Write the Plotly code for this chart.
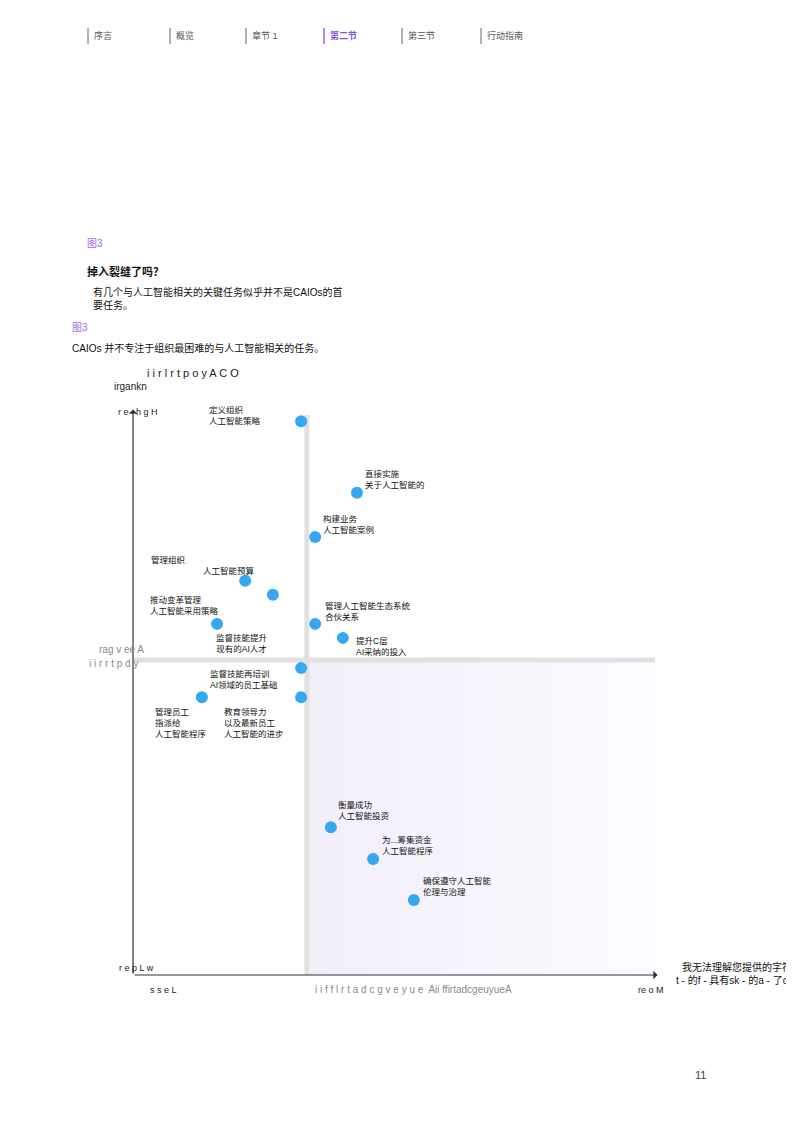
import plotly.graph_objects as go

W, H = 794, 1122
OFF = 8  # page body margin in the browser
FONT = "Liberation Sans, Arial, Noto Sans CJK SC, sans-serif"

# ---------------- data ----------------
task_labels = [
    "定义组织<br>人工智能策略",
    "直接实施<br>关于人工智能的",
    "构建业务<br>人工智能案例",
    "人工智能预算",
    "监督技能提升<br>现有的AI人才",
    "推动变革管理<br>人工智能采用策略",
    "管理人工智能生态系统<br>合伙关系",
    "提升C层<br>AI采纳的投入",
    "监督技能再培训<br>AI领域的员工基础",
    "管理员工<br>指派给<br>人工智能程序",
    "教育领导力<br>以及最新员工<br>人工智能的进步",
    "衡量成功<br>人工智能投资",
    "为...筹集资金<br>人工智能程序",
    "确保遵守人工智能<br>伦理与治理",
]
importance = [32.2, 42.9, 34.9, 21.5, 26.8, 16.1, 34.9, 40.2, 32.2, 13.2, 32.2, 37.9, 46.0, 53.8]
difficulty = [98.9, 86.1, 78.2, 70.4, 67.9, 62.7, 62.7, 60.2, 54.8, 49.6, 49.6, 26.4, 20.7, 13.4]

x_divider = 33.3
y_divider = 56.25

nav_items = ["序言", "概览", "章节 1", "第二节", "第三节", "行动指南"]
nav_active = "第二节"

# label offsets in px (xshift, yshift, align anchor)
label_style = [
    (-94, 6, "left"), (6, 13, "left"), (6, 12.5, "left"), (-44, 10, "left"),
    (-31, -48.5, "center"), (-69, 18, "left"), (8, 12.5, "left"), (11, -9, "left"),
    (-93, -11.5, "left"), (-49, -26, "left"), (-79, -26, "left"), (5, 16.5, "left"),
    (7, 13.5, "left"), (7, 13, "left"),
]

# ---------------- layout helpers ----------------
L, R, T, B = 133 - OFF, 655 - OFF, 415 - OFF, 975 - OFF


def px(x, y):
    return (x - OFF) / W, 1 - (y - OFF) / H


fig = go.Figure()

# lower-right quadrant gradient
fig.add_trace(go.Scatter(
    x=[x_divider, 100, 100, x_divider, x_divider], y=[0, 0, y_divider, y_divider, 0],
    mode="lines", line=dict(width=0), fill="toself",
    fillgradient=dict(type="horizontal", colorscale=[[0, "#f1eefa"], [1, "#fcfbff"]]),
    hoverinfo="skip", showlegend=False))

# dividers
fig.add_trace(go.Scatter(x=[x_divider, x_divider], y=[0, 100], mode="lines",
                         line=dict(color="#e2e1e1", width=5), hoverinfo="skip", showlegend=False))
fig.add_trace(go.Scatter(x=[0, 100], y=[y_divider, y_divider], mode="lines",
                         line=dict(color="#e2e1e1", width=5), hoverinfo="skip", showlegend=False))

# points
fig.add_trace(go.Scatter(x=importance, y=difficulty, mode="markers",
                         marker=dict(color="#36a8f2", size=12, line=dict(width=0)),
                         text=[t.replace("<br>", " ") for t in task_labels],
                         hoverinfo="text", showlegend=False))

ann = []
for i, lab in enumerate(task_labels):
    xs, ys, al = label_style[i]
    ann.append(dict(x=importance[i], y=difficulty[i], xref="x", yref="y", text=lab,
                    showarrow=False, xanchor=al, yanchor="middle",
                    align=al, xshift=xs, yshift=ys,
                    font=dict(size=8.5, color="#111", family=FONT)))
# extra first line for budget task
ann.append(dict(x=importance[3], y=difficulty[3], xref="x", yref="y", text="管理组织",
                showarrow=False, xanchor="left", yanchor="middle", xshift=-96, yshift=21,
                font=dict(size=8.5, color="#111", family=FONT)))

# axis arrows
ann.append(dict(x=0, y=101, ax=0, ay=0, xref="x", yref="y", axref="x", ayref="y", text="",
                showarrow=True, arrowhead=1, arrowsize=1.2, arrowwidth=1.2, arrowcolor="#333"))
ann.append(dict(x=100.5, y=0, ax=0, ay=0, xref="x", yref="y", axref="x", ayref="y", text="",
                showarrow=True, arrowhead=1, arrowsize=1.2, arrowwidth=1.2, arrowcolor="#333"))


def text_at(x, y, t, size=10, color="#111", anchor="left", bold=False):
    xp, yp = px(x, y)
    if bold:
        t = "<b>" + t + "</b>"
    ann.append(dict(x=xp, y=yp, xref="paper", yref="paper", text=t, showarrow=False,
                    xanchor=anchor, yanchor="middle", align="left", borderpad=0,
                    font=dict(size=size, color=color, family=FONT)))


# axis texts
text_at(146, 373, "i i r l r t p o y A C O", 11, "#222")
text_at(113, 386, "irgankn", 10, "#222")
text_at(117, 412, "r e   h g H", 9, "#222")
text_at(98, 649, "rag v ee A", 10, "#8a8a8a")
text_at(88, 663, "i i r r t p d y", 10, "#8a8a8a")
text_at(118, 968, "r e p L w", 9, "#222")
text_at(149, 990, "s s e L", 9, "#222")
text_at(314, 989, "i i f f l r t a d c g v e y u e  Aii ffirtadcgeuyueA", 10, "#8a8a8a")
text_at(637, 990, "re o M", 9, "#222")
text_at(681, 967, "我无法理解您提供的字符串", 10, "#111")
text_at(675, 980, "t - 的f - 具有sk - 的a - 了or", 10, "#111")

# headings
text_at(86, 243, "图3", 10, "#a36cf0")
text_at(86, 271, "掉入裂缝了吗？", 11, "#111", bold=True)
text_at(92, 298, "有几个与人工智能相关的关键任务似乎并不是CAIOs的首<br>要任务。", 10, "#111")
text_at(71, 328, "图3", 10, "#a36cf0")
text_at(71, 348, "CAIOs 并不专注于组织最困难的与人工智能相关的任务。", 10, "#111")
text_at(700, 1075, "11", 11, "#444", anchor="center")

# nav bar
nav_x = [88, 170, 246, 324, 402, 481]
shapes = []
for xpos, item in zip(nav_x, nav_items):
    active = item == nav_active
    col = "#8a4be0" if active else "#666"
    x0, y0 = px(xpos, 28)
    x1, y1 = px(xpos, 44)
    shapes.append(dict(type="line", xref="paper", yref="paper", x0=x0, x1=x0, y0=y0, y1=y1,
                       line=dict(color=col, width=1.3 if active else 1)))
    text_at(xpos + 5, 36, ("<b>" + item + "</b>") if active else item, 9,
            "#8a4be0" if active else "#555")

fig.update_layout(
    width=W, height=H, margin=dict(l=0, r=0, t=0, b=0),
    paper_bgcolor="white", plot_bgcolor="rgba(0,0,0,0)",
    font=dict(family=FONT),
    xaxis=dict(domain=[L / W, R / W], range=[0, 100], visible=False, fixedrange=True),
    yaxis=dict(domain=[1 - B / H, 1 - T / H], range=[0, 100], visible=False, fixedrange=True),
    annotations=ann, shapes=shapes, showlegend=False,
)

fig.write_html("out.html")
